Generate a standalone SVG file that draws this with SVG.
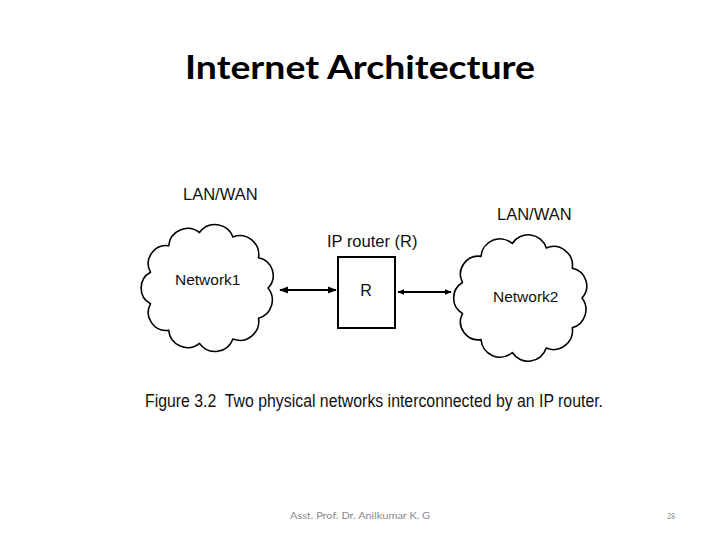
<svg xmlns="http://www.w3.org/2000/svg" width="720" height="540" viewBox="0 0 720 540">
<defs>
<style>
.lbl{font-family:"Liberation Sans",Arial,sans-serif;fill:#111;}
.cloud{fill:#fff;stroke:#000;stroke-width:1.6;stroke-linejoin:round;}
.conn{stroke:#000;fill:none;}
</style>
<marker id="ah" viewBox="0 0 10 10" refX="9" refY="5" markerWidth="4" markerHeight="4" orient="auto-start-reverse" markerUnits="strokeWidth">
<path d="M0,1 L10,5 L0,9 z" fill="#000"/>
</marker>
</defs>
<rect width="720" height="540" fill="#fff"/>
<text x="360" y="79" text-anchor="middle" font-family="Lato,'Open Sans',sans-serif" font-weight="bold" font-size="32" textLength="350" lengthAdjust="spacingAndGlyphs" fill="#000">Internet Architecture</text>

<g id="network1">
<path class="cloud" d="M268,288 A19,19 0 0 1 258.5,318.3 A19,19 0 0 1 232.9,339 A19,19 0 0 1 199.5,343.4 A19,19 0 0 1 168.7,330.3 A18,18 0 0 1 150.5,303.8 A18,18 0 0 1 150.5,272.2 A18,18 0 0 1 168.7,245.7 A19,19 0 0 1 199.5,232.6 A19,19 0 0 1 232.9,237 A19,19 0 0 1 258.5,257.7 A18,18 0 0 1 268,288 Z"/>
<text class="lbl" x="183" y="200" font-size="16.5">LAN/WAN</text>
<text class="lbl" x="175" y="285" font-size="15.5">Network1</text>
</g>

<g id="router">
<rect x="338" y="257" width="57" height="71" fill="#fff" stroke="#000" stroke-width="2"/>
<text class="lbl" x="327" y="247" font-size="16.5">IP router (R)</text>
<text class="lbl" x="366" y="296" font-size="16" text-anchor="middle">R</text>
</g>

<g id="network2">
<path class="cloud" d="M582,298 A19,19 0 0 1 572.3,327.8 A19,19 0 0 1 546.3,348.1 A19,19 0 0 1 512.3,352.5 A19,19 0 0 1 481,339.6 A18,18 0 0 1 462.5,313.5 A18,18 0 0 1 462.5,282.5 A18,18 0 0 1 481,256.4 A19,19 0 0 1 512.3,243.5 A19,19 0 0 1 546.3,247.9 A19,19 0 0 1 572.3,268.2 A18,18 0 0 1 582,298 Z"/>
<text class="lbl" x="497" y="220" font-size="16.5">LAN/WAN</text>
<text class="lbl" x="493" y="302" font-size="15.5">Network2</text>
</g>

<g id="connectors">
<line class="conn" x1="280" y1="290" x2="336" y2="290" stroke-width="2.2" marker-start="url(#ah)" marker-end="url(#ah)"/>
<line class="conn" x1="398" y1="292" x2="451" y2="292" stroke-width="1.8" marker-start="url(#ah)" marker-end="url(#ah)"/>
</g>

<text class="lbl" x="145" y="407" font-size="17.5" xml:space="preserve" textLength="458" lengthAdjust="spacingAndGlyphs">Figure 3.2  Two physical networks interconnected by an IP router.</text>
<text x="290" y="519" font-family="Lato,'Open Sans',sans-serif" font-size="10" fill="#888" textLength="140" lengthAdjust="spacingAndGlyphs">Asst. Prof. Dr. Anilkumar K. G</text>
<text x="667" y="519" font-family="Lato,'Open Sans',sans-serif" font-size="7" fill="#888">28</text>
</svg>
